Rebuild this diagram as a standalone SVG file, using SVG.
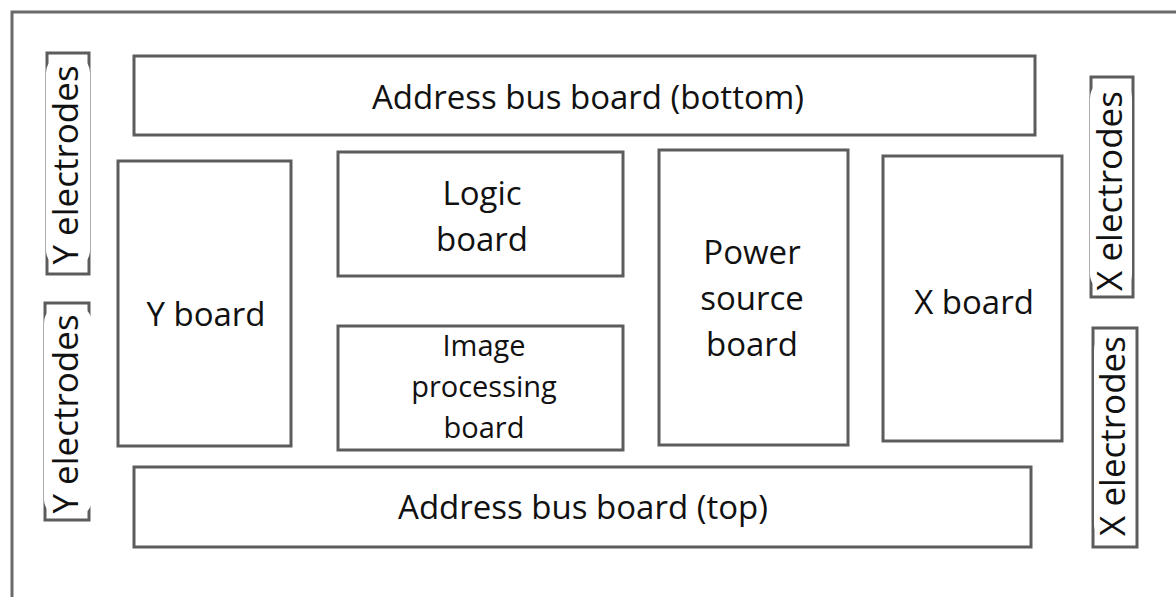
<svg xmlns="http://www.w3.org/2000/svg" width="1176" height="597" viewBox="0 0 1176 597">
  <style>
    .box { fill: #ffffff; stroke: #5c5c5c; stroke-width: 3; }
    .frame { fill: none; stroke: #6a6a6a; stroke-width: 3; }
    .lbl { font-family: "Open Sans", "Noto Sans", "Liberation Sans", sans-serif; font-size: 33px; fill: #111111; text-anchor: middle; }
    .sm { font-size: 29px; }
    .el { font-size: 35px; }
    .patch { fill: #ffffff; }
  </style>
  <defs>
    <filter id="soft" x="-5%" y="-5%" width="110%" height="110%">
      <feGaussianBlur stdDeviation="0.6"/>
    </filter>
  </defs>
  <rect width="1176" height="597" fill="#ffffff"/>

  <!-- enclosure outline -->
  <path class="frame" d="M12 597 V12 H1176" filter="url(#soft)"/>

  <g id="addr-bottom">
    <rect class="box" x="134" y="56" width="901" height="79" filter="url(#soft)"/>
    <text class="lbl" x="588" y="109">Address bus board (bottom)</text>
  </g>

  <g id="y-board">
    <rect class="box" x="118" y="161" width="173" height="285" filter="url(#soft)"/>
    <text class="lbl" x="206" y="326">Y board</text>
  </g>

  <g id="logic-board">
    <rect class="box" x="338" y="152" width="285" height="124" filter="url(#soft)"/>
    <text class="lbl" x="482" y="205">Logic</text>
    <text class="lbl" x="482" y="251">board</text>
  </g>

  <g id="image-board">
    <rect class="box" x="338" y="326" width="285" height="124" filter="url(#soft)"/>
    <text class="lbl sm" x="484" y="356">Image</text>
    <text class="lbl sm" x="484" y="397">processing</text>
    <text class="lbl sm" x="484" y="438">board</text>
  </g>

  <g id="power-board">
    <rect class="box" x="659" y="150" width="189" height="295" filter="url(#soft)"/>
    <text class="lbl" x="752" y="264">Power</text>
    <text class="lbl" x="752" y="310">source</text>
    <text class="lbl" x="752" y="356">board</text>
  </g>

  <g id="x-board">
    <rect class="box" x="883" y="156" width="179" height="285" filter="url(#soft)"/>
    <text class="lbl" x="974" y="314">X board</text>
  </g>

  <g id="addr-top">
    <rect class="box" x="134" y="467" width="897" height="80" filter="url(#soft)"/>
    <text class="lbl" x="583" y="519">Address bus board (top)</text>
  </g>

  <g id="y-electrodes-1">
    <rect class="box" x="47" y="53" width="42" height="221" filter="url(#soft)"/>
    <rect class="patch" x="46" y="55" width="44" height="213" rx="18"/>
    <text class="lbl el" transform="translate(78 165) rotate(-90)">Y electrodes</text>
  </g>

  <g id="y-electrodes-2">
    <rect class="box" x="45" y="303" width="44" height="217" filter="url(#soft)"/>
    <rect class="patch" x="44" y="305" width="48" height="212" rx="18"/>
    <text class="lbl el" transform="translate(78 414) rotate(-90)">Y electrodes</text>
  </g>

  <g id="x-electrodes-1">
    <rect class="box" x="1091" y="77" width="42" height="220" filter="url(#soft)"/>
    <rect class="patch" x="1090" y="80" width="42" height="212" rx="18"/>
    <text class="lbl el" transform="translate(1122 191) rotate(-90)">X electrodes</text>
  </g>

  <g id="x-electrodes-2">
    <rect class="box" x="1093" y="328" width="44" height="219" filter="url(#soft)"/>
    <rect class="patch" x="1094" y="332" width="40" height="210" rx="18"/>
    <text class="lbl el" transform="translate(1125 436) rotate(-90)">X electrodes</text>
  </g>

  <!-- no connectors in this layout -->
  <g id="connectors"/>
</svg>
